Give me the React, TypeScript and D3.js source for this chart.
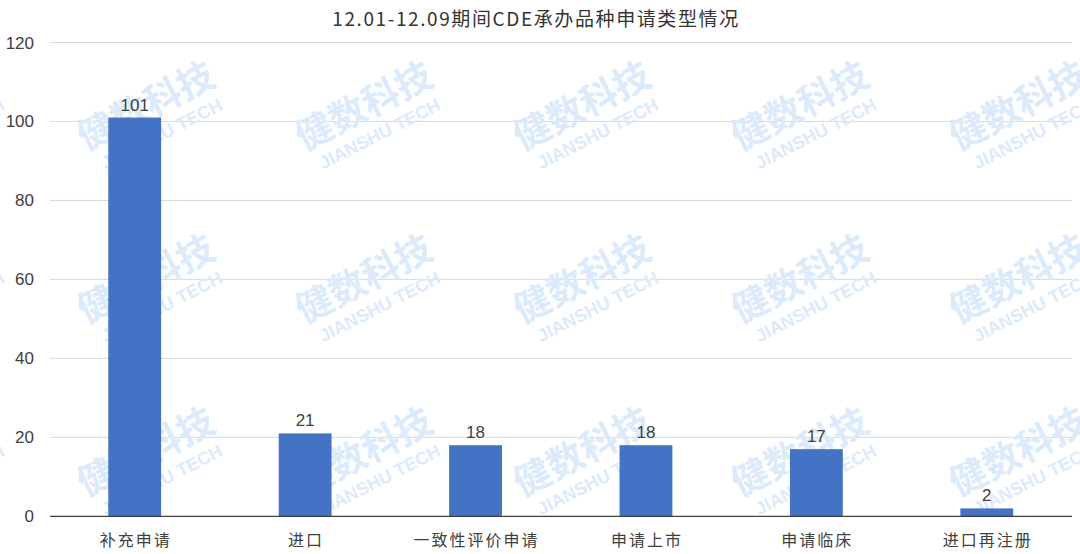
import React from "react";
import * as d3 from "d3";

const categories = ["补充申请", "进口", "一致性评价申请", "申请上市", "申请临床", "进口再注册"];
const values = [101, 21, 18, 18, 17, 2];
const yTicks = [0, 20, 40, 60, 80, 100, 120];
const title = "12.01-12.09期间CDE承办品种申请类型情况";
const wmCols = [-121, 97, 315, 533, 751, 969];
const wmRows = [131, 304, 477];

const W = 1080;
const H = 554;
const FONT = "'Liberation Sans', 'Noto Sans CJK SC', sans-serif";

export default function App() {
  const x = d3.scaleBand<string>().domain(categories).range([49.5, 1072]).padding(0);
  const y = d3.scaleLinear().domain([0, 120]).range([516.3, 42.5]);
  const bw = x.bandwidth() * 0.31;

  return (
    <svg width={W} height={H} style={{ position: "absolute", left: 0, top: 0, background: "#fff" }}>
      <rect x={0} y={0} width={W} height={H} fill="#fff" />
      {yTicks.slice(1).map((t) => (
        <line key={t} x1={50} x2={1072} y1={y(t)} y2={y(t)} stroke="#d9d9d9" strokeWidth={1} />
      ))}
      <g>
        {wmRows.map((ry) =>
          wmCols.map((cx) => (
            <g key={`${cx}-${ry}`} transform={`translate(${cx},${ry}) rotate(-27)`} fill="#dcebfb">
              <text x={-19} y={13} fontSize={37} fontWeight="bold" fontFamily="'Noto Sans CJK SC', sans-serif">
                健数科技
              </text>
              <text x={-10} y={38} fontSize={18} fontWeight="bold" fontFamily="'Liberation Sans', sans-serif">
                JIANSHU TECH
              </text>
            </g>
          ))
        )}
      </g>
      {categories.map((c, i) => {
        const cx = (x(c) as number) + x.bandwidth() / 2;
        return (
          <g key={c}>
            <rect x={cx - bw / 2} y={y(values[i])} width={bw} height={y(0) - y(values[i])} fill="#4472c4" />
            <text x={cx} y={y(values[i]) - 7} textAnchor="middle" fontSize={17} fill="#404040" fontFamily={FONT}>
              {values[i]}
            </text>
            <text x={cx + 1} y={546} textAnchor="middle" fontSize={16} letterSpacing={2} fill="#404040" fontFamily={FONT}>
              {c}
            </text>
          </g>
        );
      })}
      <line x1={50} x2={1072} y1={y(0)} y2={y(0)} stroke="#404040" strokeWidth={1.2} />
      {yTicks.map((t) => (
        <text key={t} x={34} y={y(t) + 6} textAnchor="end" fontSize={17} fill="#404040" fontFamily={FONT}>
          {t}
        </text>
      ))}
      <text x={536} y={26} textAnchor="middle" fontSize={19} letterSpacing={1.6} fill="#333" fontFamily="'Noto Sans CJK SC', sans-serif">
        {title}
      </text>
    </svg>
  );
}
